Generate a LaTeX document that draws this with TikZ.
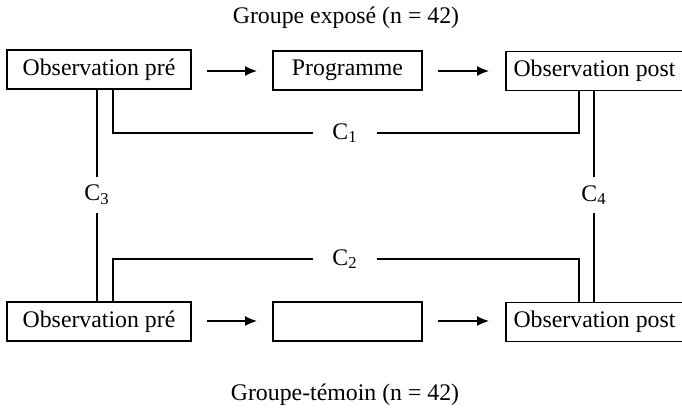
\documentclass[tikz,border=0pt]{standalone}
\usepackage{fontspec}
\setmainfont{Liberation Serif}
\usetikzlibrary{arrows.meta}
\begin{document}
\begin{tikzpicture}[x=0.5pt,y=-0.5pt,
  every node/.style={font=\fontsize{11.9}{14}\selectfont},
  box/.style={draw, line width=0.6pt, minimum height=19.5pt, inner sep=0pt},
  lbl/.style={inner sep=0pt, minimum width=32pt, minimum height=14pt},
  conn/.style={line width=0.6pt},
  arr/.style={line width=0.6pt, -{Latex[length=6pt,width=5pt]}}]
\useasboundingbox (0,0) rectangle (682,410);
% titles
\node (t1) at (346,18) {Groupe exposé (n = 42)};
\node (t2) at (345,395) {Groupe-témoin (n = 42)};
% boxes
\node[box, minimum width=92pt] (tl) at (99,69.5) {Observation pré};
\node[box, minimum width=74.5pt] (tm) at (347.5,70.5) {Programme};
\node[box, minimum width=88.5pt] (tr) at (594.5,71) {Observation post};
\node[box, minimum width=92pt] (bl) at (99,321.5) {Observation pré};
\node[box, minimum width=74.5pt] (bm) at (347.5,321.5) {};
\node[box, minimum width=88.5pt] (br) at (594.5,322) {Observation post};
% arrows
\coordinate (a1s) at (207,71); \coordinate (a1e) at (257,71);
\coordinate (a2s) at (438,71); \coordinate (a2e) at (489,71);
\coordinate (a3s) at (207,321); \coordinate (a3e) at (257,321);
\coordinate (a4s) at (438,321); \coordinate (a4e) at (489,321);
\draw[arr] (a1s) -- (a1e);
\draw[arr] (a2s) -- (a2e);
\draw[arr] (a3s) -- (a3e);
\draw[arr] (a4s) -- (a4e);
% labels
\node[lbl] (c1) at (345,133) {C\textsubscript{1}};
\node[lbl] (c2) at (345,259) {C\textsubscript{2}};
\node[lbl, minimum width=14pt, minimum height=18pt] (c3) at (97,195) {C\textsubscript{3}};
\node[lbl, minimum width=14pt, minimum height=18pt] (c4) at (594,195) {C\textsubscript{4}};
% C1
\coordinate (k1) at (113,133);
\coordinate (k2) at (579,133);
\draw[conn] (tl.south -| k1) -- (k1) -- (c1.west);
\draw[conn] (c1.east) -- (k2) -- (tr.south -| k2);
% C2
\coordinate (k3) at (113,259);
\coordinate (k4) at (579,259);
\draw[conn] (bl.north -| k3) -- (k3) -- (c2.west);
\draw[conn] (c2.east) -- (k4) -- (br.north -| k4);
% C3
\coordinate (k5) at (97,0);
\draw[conn] (tl.south -| k5) -- (c3.north);
\draw[conn] (c3.south) -- (bl.north -| k5);
% C4
\coordinate (k6) at (594,0);
\draw[conn] (tr.south -| k6) -- (c4.north);
\draw[conn] (c4.south) -- (br.north -| k6);
\end{tikzpicture}
\end{document}
